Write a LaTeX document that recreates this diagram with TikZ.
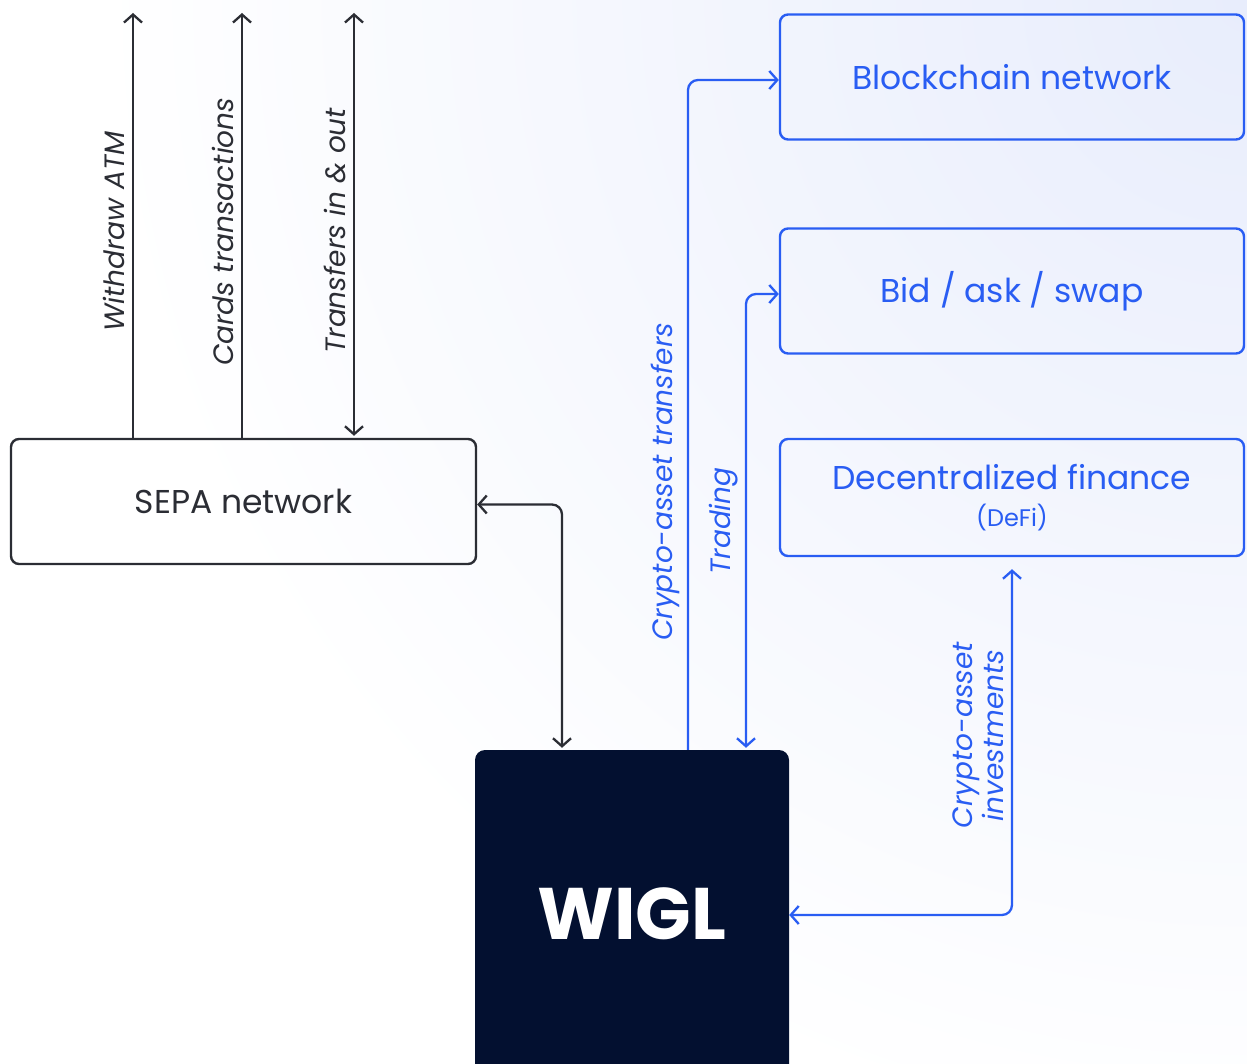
\documentclass[tikz,border=0pt]{standalone}
\usepackage{fontspec}
\setmainfont{Poppins}
\usetikzlibrary{arrows.meta}
\definecolor{navy}{RGB}{3, 16, 48}
\definecolor{brand}{RGB}{41, 93, 243}
\definecolor{ink}{RGB}{43, 45, 52}
\definecolor{haze}{RGB}{232, 237, 252}

\begin{document}
\begin{tikzpicture}[x=1pt, y=-1pt,
    >={Straight Barb[length=8pt, width=18pt]},
    flow/.style={line width=2.3pt, ink},
    cryptoflow/.style={line width=2.3pt, brand},
    lbl/.style={above, sloped, inner sep=7pt, font=\fontsize{28}{31}\selectfont\itshape},
    sepabox/.style={draw=ink, line width=2.4pt, rounded corners=8pt, minimum width=465pt, minimum height=125pt, text=ink, font=\fontsize{33}{38}\selectfont},
    netbox/.style={draw=brand, line width=2.4pt, rounded corners=8pt, minimum width=464pt, minimum height=125pt, text=brand, font=\fontsize{33}{38}\selectfont},
    corebox/.style={fill=navy, rounded corners=10pt, minimum width=314pt, minimum height=328pt, text=white, font=\fontsize{73}{80}\selectfont\bfseries}]
% Canvas
\clip (0,0) rectangle (1247,1064);
\shade[inner color=haze, outer color=white] (1247,0) circle (1150);

% Networks
\node[sepabox] (sepa) at (243.5,501.5) {SEPA network};
\node[netbox] (chain) at (1012,77) {Blockchain network};
\node[netbox] (swap) at (1012,291) {Bid / ask / swap};
\node[netbox, minimum height=117pt, align=center] (defi) at (1012,497.5) {Decentralized finance\\[-1pt]{\fontsize{24}{28}\selectfont (DeFi)}};

% WIGL
\node[corebox] (wigl) at (632,914) {WIGL};

% SEPA flows
\coordinate (atm) at (133,13);
\coordinate (cards) at (242,13);
\coordinate (transfers) at (354,13);
\draw[flow, ->] (sepa.north -| atm) -- node[lbl, pos=0.485] {Withdraw ATM} (atm);
\draw[flow, ->] (sepa.north -| cards) -- node[lbl, pos=0.485] {Cards transactions} (cards);
\draw[flow, <->] ([yshift=2pt]sepa.north -| transfers) -- node[lbl, pos=0.485] {Transfers in \& out} (transfers);
\draw[flow, <->, rounded corners=10pt] ([yshift=-3pt]sepa.east) -| ([xshift=-70pt, yshift=2pt]wigl.north);

% Crypto flows
\draw[cryptoflow, ->, rounded corners=10pt] ([xshift=56pt]wigl.north) |- node[lbl, pos=0.2] {Crypto-asset transfers} ([yshift=-3pt]chain.west);
\draw[cryptoflow, <->, rounded corners=10pt] ([xshift=114pt, yshift=2pt]wigl.north) |- node[lbl, pos=0.25] {Trading} ([yshift=-3pt]swap.west);
\draw[cryptoflow, <->, rounded corners=10pt] ([yshift=-1pt]wigl.east) -| node[lbl, pos=0.76, align=center] {Crypto-asset\\investments} ([yshift=-12pt]defi.south);
\end{tikzpicture}
\end{document}
